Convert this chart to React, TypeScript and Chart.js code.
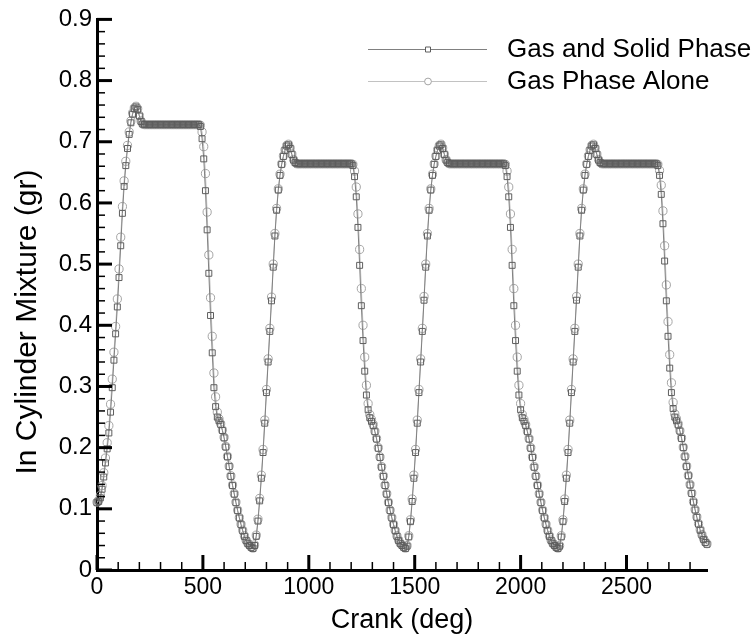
import { useEffect, useRef } from "react";
import { Chart, registerables } from "chart.js";

Chart.register(...registerables);

// Crank angle sampling (deg): one value every 8 deg from 0 to 2880
const crankStep = 8;

// Gas and Solid Phase, cycle by cycle (90 samples per 720 deg cycle)
const gasSolidCycle1 = [
  0.110, 0.112, 0.118, 0.132, 0.152, 0.175, 0.198, 0.224, 0.258, 0.298,
  0.343, 0.386, 0.430, 0.478, 0.530, 0.583, 0.627, 0.661, 0.689, 0.712,
  0.731, 0.745, 0.754, 0.757, 0.753, 0.742, 0.733, 0.729,
  0.728, 0.728, 0.728, 0.728, 0.728, 0.728, 0.728, 0.728, 0.728, 0.728, 0.728,
  0.728, 0.728, 0.728, 0.728, 0.728, 0.728, 0.728, 0.728, 0.728, 0.728, 0.728,
  0.728, 0.728, 0.728, 0.728, 0.728, 0.728, 0.728, 0.728, 0.728, 0.728, 0.728,
  0.725, 0.705, 0.672, 0.620, 0.556, 0.485, 0.416, 0.355, 0.298, 0.267,
  0.250, 0.244, 0.238, 0.228, 0.216, 0.201, 0.185, 0.169, 0.153, 0.138,
  0.124, 0.110, 0.097, 0.085, 0.074, 0.064, 0.055, 0.048, 0.043,
];
const gasSolidCycle2 = [
  0.040, 0.037, 0.035, 0.040, 0.055, 0.080, 0.113, 0.150, 0.192, 0.240,
  0.290, 0.340, 0.390, 0.440, 0.495, 0.546, 0.588, 0.621, 0.645, 0.663,
  0.676, 0.686, 0.693, 0.695, 0.689, 0.679, 0.670, 0.666,
  0.664, 0.664, 0.664, 0.664, 0.664, 0.664, 0.664, 0.664, 0.664, 0.664, 0.664,
  0.664, 0.664, 0.664, 0.664, 0.664, 0.664, 0.664, 0.664, 0.664, 0.664, 0.664,
  0.664, 0.664, 0.664, 0.664, 0.664, 0.664, 0.664, 0.664, 0.664, 0.664, 0.664,
  0.661, 0.643, 0.610, 0.560, 0.498, 0.432, 0.375, 0.325, 0.286, 0.262,
  0.249, 0.243, 0.236, 0.226, 0.214, 0.199, 0.184, 0.168, 0.153, 0.138,
  0.124, 0.110, 0.097, 0.085, 0.074, 0.064, 0.055, 0.048, 0.043,
];
const gasSolidCycle3 = [
  0.040, 0.037, 0.035, 0.039, 0.054, 0.079, 0.112, 0.150, 0.192, 0.240,
  0.290, 0.340, 0.390, 0.441, 0.495, 0.546, 0.588, 0.621, 0.645, 0.663,
  0.676, 0.686, 0.693, 0.695, 0.689, 0.679, 0.670, 0.666,
  0.664, 0.664, 0.664, 0.664, 0.664, 0.664, 0.664, 0.664, 0.664, 0.664, 0.664,
  0.664, 0.664, 0.664, 0.664, 0.664, 0.664, 0.664, 0.664, 0.664, 0.664, 0.664,
  0.664, 0.664, 0.664, 0.664, 0.664, 0.664, 0.664, 0.664, 0.664, 0.664, 0.664,
  0.661, 0.643, 0.610, 0.560, 0.498, 0.432, 0.375, 0.325, 0.286, 0.262,
  0.249, 0.243, 0.236, 0.226, 0.214, 0.199, 0.184, 0.168, 0.153, 0.138,
  0.124, 0.110, 0.097, 0.085, 0.074, 0.064, 0.055, 0.048, 0.043,
];
const gasSolidCycle4 = [
  0.040, 0.037, 0.035, 0.039, 0.054, 0.079, 0.112, 0.150, 0.192, 0.240,
  0.290, 0.340, 0.390, 0.441, 0.495, 0.546, 0.588, 0.621, 0.645, 0.663,
  0.676, 0.686, 0.693, 0.695, 0.689, 0.679, 0.670, 0.666,
  0.664, 0.664, 0.664, 0.664, 0.664, 0.664, 0.664, 0.664, 0.664, 0.664, 0.664,
  0.664, 0.664, 0.664, 0.664, 0.664, 0.664, 0.664, 0.664, 0.664, 0.664, 0.664,
  0.664, 0.664, 0.664, 0.664, 0.664, 0.664, 0.664, 0.664, 0.664, 0.664, 0.664,
  0.661, 0.645, 0.614, 0.566, 0.505, 0.440, 0.382, 0.330, 0.290, 0.264,
  0.250, 0.244, 0.237, 0.227, 0.215, 0.200, 0.185, 0.169, 0.154, 0.139,
  0.125, 0.111, 0.098, 0.086, 0.075, 0.065, 0.057, 0.050, 0.045,
];
const gasSolidEnd = 0.042;

// Gas Phase Alone, cycle by cycle
const gasCycle1 = [
  0.111, 0.114, 0.122, 0.138, 0.159, 0.183, 0.208, 0.236, 0.271, 0.312,
  0.356, 0.398, 0.443, 0.492, 0.544, 0.594, 0.636, 0.668, 0.694, 0.716,
  0.734, 0.747, 0.755, 0.758, 0.754, 0.743, 0.734, 0.729,
  0.728, 0.728, 0.728, 0.728, 0.728, 0.728, 0.728, 0.728, 0.728, 0.728, 0.728,
  0.728, 0.728, 0.728, 0.728, 0.728, 0.728, 0.728, 0.728, 0.728, 0.728, 0.728,
  0.728, 0.728, 0.728, 0.728, 0.728, 0.728, 0.728, 0.728, 0.728, 0.728, 0.728,
  0.727, 0.716, 0.692, 0.648, 0.585, 0.515, 0.445, 0.382, 0.322, 0.283,
  0.258, 0.247, 0.239, 0.229, 0.217, 0.202, 0.186, 0.170, 0.154, 0.139,
  0.125, 0.111, 0.098, 0.086, 0.075, 0.065, 0.056, 0.049, 0.044,
];
const gasCycle2 = [
  0.041, 0.038, 0.036, 0.041, 0.057, 0.083, 0.117, 0.155, 0.197, 0.245,
  0.295, 0.345, 0.395, 0.446, 0.500, 0.550, 0.591, 0.623, 0.647, 0.664,
  0.677, 0.687, 0.694, 0.696, 0.690, 0.680, 0.671, 0.666,
  0.664, 0.664, 0.664, 0.664, 0.664, 0.664, 0.664, 0.664, 0.664, 0.664, 0.664,
  0.664, 0.664, 0.664, 0.664, 0.664, 0.664, 0.664, 0.664, 0.664, 0.664, 0.664,
  0.664, 0.664, 0.664, 0.664, 0.664, 0.664, 0.664, 0.664, 0.664, 0.664, 0.664,
  0.663, 0.652, 0.626, 0.582, 0.524, 0.460, 0.400, 0.348, 0.302, 0.272,
  0.254, 0.246, 0.238, 0.227, 0.215, 0.200, 0.185, 0.169, 0.154, 0.139,
  0.125, 0.111, 0.098, 0.086, 0.075, 0.065, 0.056, 0.049, 0.044,
];
const gasCycle3 = [
  0.041, 0.038, 0.036, 0.040, 0.056, 0.082, 0.116, 0.155, 0.197, 0.245,
  0.295, 0.345, 0.395, 0.447, 0.500, 0.550, 0.591, 0.623, 0.647, 0.664,
  0.677, 0.687, 0.694, 0.696, 0.690, 0.680, 0.671, 0.666,
  0.664, 0.664, 0.664, 0.664, 0.664, 0.664, 0.664, 0.664, 0.664, 0.664, 0.664,
  0.664, 0.664, 0.664, 0.664, 0.664, 0.664, 0.664, 0.664, 0.664, 0.664, 0.664,
  0.664, 0.664, 0.664, 0.664, 0.664, 0.664, 0.664, 0.664, 0.664, 0.664, 0.664,
  0.663, 0.652, 0.626, 0.582, 0.524, 0.460, 0.400, 0.348, 0.302, 0.272,
  0.254, 0.246, 0.238, 0.227, 0.215, 0.200, 0.185, 0.169, 0.154, 0.139,
  0.125, 0.111, 0.098, 0.086, 0.075, 0.065, 0.056, 0.049, 0.044,
];
const gasCycle4 = [
  0.041, 0.038, 0.036, 0.040, 0.056, 0.082, 0.116, 0.155, 0.197, 0.245,
  0.295, 0.345, 0.395, 0.447, 0.500, 0.550, 0.591, 0.623, 0.647, 0.664,
  0.677, 0.687, 0.694, 0.696, 0.690, 0.680, 0.671, 0.666,
  0.664, 0.664, 0.664, 0.664, 0.664, 0.664, 0.664, 0.664, 0.664, 0.664, 0.664,
  0.664, 0.664, 0.664, 0.664, 0.664, 0.664, 0.664, 0.664, 0.664, 0.664, 0.664,
  0.664, 0.664, 0.664, 0.664, 0.664, 0.664, 0.664, 0.664, 0.664, 0.664, 0.664,
  0.663, 0.653, 0.629, 0.587, 0.530, 0.466, 0.406, 0.352, 0.306, 0.274,
  0.255, 0.247, 0.239, 0.228, 0.216, 0.201, 0.186, 0.170, 0.155, 0.140,
  0.126, 0.112, 0.099, 0.087, 0.076, 0.066, 0.058, 0.051, 0.046,
];
const gasEnd = 0.043;

// Tick values
const xMajorTicks = [0, 500, 1000, 1500, 2000, 2500];
const xMinorTicks = [100, 200, 300, 400, 600, 700, 800, 900, 1100, 1200, 1300, 1400,
  1600, 1700, 1800, 1900, 2100, 2200, 2300, 2400, 2600, 2700, 2800];
const yMajorTicks = [0, 0.1, 0.2, 0.3, 0.4, 0.5, 0.6, 0.7, 0.8, 0.9];
const yMinorTicks = [0.02, 0.04, 0.06, 0.08, 0.12, 0.14, 0.16, 0.18, 0.22, 0.24, 0.26, 0.28,
  0.32, 0.34, 0.36, 0.38, 0.42, 0.44, 0.46, 0.48, 0.52, 0.54, 0.56, 0.58,
  0.62, 0.64, 0.66, 0.68, 0.72, 0.74, 0.76, 0.78, 0.82, 0.84, 0.86, 0.88];

const seriesLabels = ["Gas and Solid Phase", "Gas Phase Alone"];
const xTitle = "Crank (deg)";
const yTitle = "In Cylinder Mixture (gr)";

const FONT = "'Liberation Sans', Arial, Helvetica, sans-serif";

const gasSolidValues = [...gasSolidCycle1, ...gasSolidCycle2, ...gasSolidCycle3, ...gasSolidCycle4, gasSolidEnd];
const gasValues = [...gasCycle1, ...gasCycle2, ...gasCycle3, ...gasCycle4, gasEnd];

const toPoints = (vals: number[]) => vals.map((v, i) => ({ x: i * crankStep, y: v }));

const SOLID_LINE = "#808080";
const SOLID_MARK = "#5e5e5e";
const GAS_LINE = "#c2c2c2";
const GAS_MARK = "#a4a4a4";

const inwardTicks = {
  id: "inwardTicks",
  afterDatasetsDraw(chart: any) {
    const { ctx, chartArea, scales } = chart;
    const xs = scales.x;
    const ys = scales.y;
    ctx.save();
    ctx.strokeStyle = "#000";
    const drawX = (vals: number[], len: number, w: number) => {
      ctx.lineWidth = w;
      vals.forEach((v) => {
        const px = xs.getPixelForValue(v);
        ctx.beginPath();
        ctx.moveTo(px, chartArea.bottom);
        ctx.lineTo(px, chartArea.bottom - len);
        ctx.stroke();
      });
    };
    const drawY = (vals: number[], len: number, w: number) => {
      ctx.lineWidth = w;
      vals.forEach((v) => {
        const py = ys.getPixelForValue(v);
        ctx.beginPath();
        ctx.moveTo(chartArea.left, py);
        ctx.lineTo(chartArea.left + len, py);
        ctx.stroke();
      });
    };
    drawX(xMinorTicks, 8, 1.5);
    drawX(xMajorTicks, 15, 3);
    drawY(yMinorTicks, 8, 1.5);
    drawY(yMajorTicks, 15, 3);
    ctx.restore();
  },
};

const titlesAndLegend = {
  id: "titlesAndLegend",
  afterDraw(chart: any) {
    const { ctx } = chart;
    ctx.save();
    // y axis title
    ctx.translate(28, 322);
    ctx.rotate(-Math.PI / 2);
    ctx.fillStyle = "#000";
    ctx.font = `30px ${FONT}`;
    ctx.textAlign = "center";
    ctx.textBaseline = "middle";
    ctx.fillText(yTitle, 0, 0);
    ctx.restore();

    const x0 = 368;
    const x1 = 487;
    const xm = 428;
    const rows = [49, 81];
    ctx.save();
    rows.forEach((y, i) => {
      ctx.lineWidth = 1;
      ctx.strokeStyle = i === 0 ? SOLID_LINE : GAS_LINE;
      ctx.beginPath();
      ctx.moveTo(x0, y + 0.5);
      ctx.lineTo(x1, y + 0.5);
      ctx.stroke();
      ctx.fillStyle = "#fff";
      ctx.strokeStyle = i === 0 ? SOLID_MARK : GAS_MARK;
      ctx.beginPath();
      if (i === 0) {
        ctx.rect(xm - 2.5, y - 2, 5, 5);
      } else {
        ctx.arc(xm, y + 0.5, 3.4, 0, Math.PI * 2);
      }
      ctx.fill();
      ctx.stroke();
      ctx.fillStyle = "#000";
      ctx.font = `26px ${FONT}`;
      ctx.textBaseline = "middle";
      ctx.textAlign = "left";
      ctx.fillText(seriesLabels[i], 507, y + 1);
    });
    ctx.restore();
  },
};

export default function App() {
  const ref = useRef<HTMLCanvasElement | null>(null);
  useEffect(() => {
    if (!ref.current) return;
    const chart = new Chart(ref.current, {
      type: "line",
      data: {
        datasets: [
          {
            label: seriesLabels[0],
            data: toPoints(gasSolidValues),
            borderColor: SOLID_LINE,
            borderWidth: 1,
            pointStyle: "rect",
            pointRadius: 4.2,
            pointBorderColor: SOLID_MARK,
            pointBackgroundColor: "rgba(0,0,0,0)",
            pointBorderWidth: 1,
            tension: 0,
            clip: 8,
          } as any,
          {
            label: seriesLabels[1],
            data: toPoints(gasValues),
            borderColor: GAS_LINE,
            borderWidth: 1,
            pointStyle: "circle",
            pointRadius: 4.1,
            pointBorderColor: GAS_MARK,
            pointBackgroundColor: "rgba(0,0,0,0)",
            pointBorderWidth: 1,
            tension: 0,
            clip: 8,
          } as any,
        ],
      },
      options: {
        responsive: false,
        animation: false,
        events: [],
        layout: { padding: { top: 17, right: 46, bottom: 0, left: 0 } },
        plugins: { legend: { display: false }, tooltip: { enabled: false } },
        scales: {
          x: {
            type: "linear",
            min: 0,
            max: 2880,
            afterBuildTicks: (s: any) => {
              s.ticks = xMajorTicks.map((v) => ({ value: v }));
            },
            afterFit: (s: any) => {
              s.height = 64;
            },
            grid: { display: false, drawTicks: false },
            border: { display: true, color: "#000", width: 3 },
            ticks: {
              color: "#000",
              font: { family: FONT, size: 23 },
              padding: 4,
              maxRotation: 0,
              autoSkip: false,
              callback: (v: any) => String(v),
            },
            title: {
              display: true,
              text: xTitle,
              color: "#000",
              font: { family: FONT, size: 27, lineHeight: 1 },
              padding: { top: 0, bottom: 0 },
            },
          },
          y: {
            type: "linear",
            min: 0,
            max: 0.9,
            afterBuildTicks: (s: any) => {
              s.ticks = yMajorTicks.map((v) => ({ value: v }));
            },
            afterFit: (s: any) => {
              s.width = 97;
            },
            grid: { display: false, drawTicks: false },
            border: { display: true, color: "#000", width: 3 },
            ticks: {
              color: "#000",
              font: { family: FONT, size: 24 },
              padding: 5,
              callback: (v: any) => Number(v).toFixed(1).replace(/\.0$/, ""),
            },
            title: { display: false },
          },
        },
      },
      plugins: [inwardTicks, titlesAndLegend],
    });
    return () => chart.destroy();
  }, []);
  return (
    <div style={{ position: "fixed", left: 0, top: 0, width: 753, height: 634, background: "#fff" }}>
      <canvas ref={ref} width={753} height={634} style={{ display: "block" }} />
    </div>
  );
}
